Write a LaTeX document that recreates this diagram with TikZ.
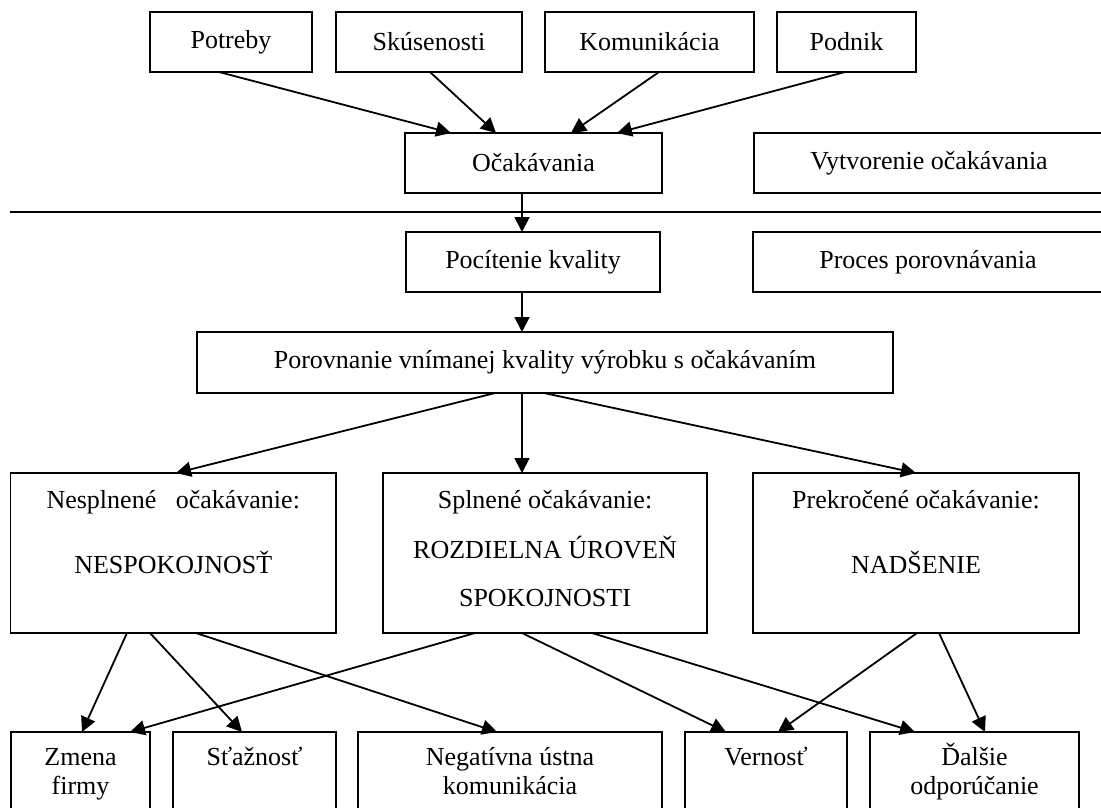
\documentclass[tikz,border=0pt]{standalone}
\usepackage{fontspec}
\setmainfont{Liberation Serif}
\usetikzlibrary{arrows.meta,calc}
\begin{document}
\begin{tikzpicture}[x=1pt,y=-1pt,
  box/.style={draw, line width=1.9pt, inner sep=0pt, outer sep=0pt, anchor=north west,
    font=\fontsize{26}{30}\selectfont, minimum height=60pt},
  lbl/.style={font=\fontsize{26}{30}\selectfont, inner sep=0pt, anchor=base},
  arr/.style={line width=1.8pt, -{Triangle[length=15pt,width=15pt]}},
  sep/.style={line width=1.9pt}
]
\clip (0,0) rectangle (1101,807);
% top row
\node[box, minimum width=162pt] (potreby) at (150,12) {Potreby};
\node[box, minimum width=186pt] (skus) at (336,12) {Skúsenosti};
\node[box, minimum width=209pt] (komun) at (545,12) {Komunikácia};
\node[box, minimum width=139pt] (podnik) at (777,12) {Podnik};
% second row
\node[box, minimum width=257pt] (ocak) at (405,133) {Očakávania};
\node[box, minimum width=350pt] (vytv) at (754,133) {Vytvorenie očakávania};
% separator
\coordinate (sepL) at (10,212);
\coordinate (sepR) at (1110,212);
\draw[sep] (sepL) -- (sepR);
% third row
\node[box, minimum width=254pt] (pocit) at (406,232) {Pocítenie kvality};
\node[box, minimum width=350pt] (proces) at (753,232) {Proces porovnávania};
% comparison
\node[box, minimum width=696pt, minimum height=61pt] (porov) at (197,332) {Porovnanie vnímanej kvality výrobku s očakávaním};
% outcome boxes
\node[box, minimum width=325.5pt, minimum height=160pt] (nesp) at (10.5,473) {};
\node[box, minimum width=324pt, minimum height=160pt] (spln) at (383,473) {};
\node[box, minimum width=326pt, minimum height=160pt] (prekr) at (753,473) {};
\node[lbl] (nesp1) at ($(nesp.north)+(0,35)$) {Nesplnené\ \ \ očakávanie:};
\node[lbl] (nesp2) at ($(nesp.north)+(0,100)$) {NESPOKOJNOSŤ};
\node[lbl] (spln1) at ($(spln.north)+(0,35)$) {Splnené očakávanie:};
\node[lbl] (spln2) at ($(spln.north)+(0,85)$) {ROZDIELNA ÚROVEŇ};
\node[lbl] (spln3) at ($(spln.north)+(0,133)$) {SPOKOJNOSTI};
\node[lbl] (prekr1) at ($(prekr.north)+(0,35)$) {Prekročené očakávanie:};
\node[lbl] (prekr2) at ($(prekr.north)+(0,100)$) {NADŠENIE};
% bottom row
\node[box, minimum width=139pt, minimum height=110pt] (zmena) at (11,732) {};
\node[box, minimum width=163pt, minimum height=110pt] (staz) at (173,732) {};
\node[box, minimum width=304pt, minimum height=110pt] (neg) at (358,732) {};
\node[box, minimum width=162pt, minimum height=110pt] (vern) at (685,732) {};
\node[box, minimum width=209pt, minimum height=110pt] (dals) at (870,732) {};
\node[lbl] (zmena1) at ($(zmena.north)+(0,33)$) {Zmena};
\node[lbl] (zmena2) at ($(zmena.north)+(0,62)$) {firmy};
\node[lbl] (staz1) at ($(staz.north)+(0,33)$) {Sťažnosť};
\node[lbl] (neg1) at ($(neg.north)+(0,33)$) {Negatívna ústna};
\node[lbl] (neg2) at ($(neg.north)+(0,62)$) {komunikácia};
\node[lbl] (vern1) at ($(vern.north)+(0,33)$) {Vernosť};
\node[lbl] (dals1) at ($(dals.north)+(0,33)$) {Ďalšie};
\node[lbl] (dals2) at ($(dals.north)+(0,62)$) {odporúčanie};
% arrows top
\draw[arr] ([xshift=69pt]potreby.south west) -- ([xshift=46pt]ocak.north west);
\draw[arr] ([xshift=94pt]skus.south west) -- ([xshift=91pt]ocak.north west);
\draw[arr] ([xshift=114pt]komun.south west) -- ([xshift=166pt]ocak.north west);
\draw[arr] ([xshift=68pt]podnik.south west) -- ([xshift=212pt]ocak.north west);
\draw[arr] ([xshift=117pt]ocak.south west) -- ([xshift=116pt]pocit.north west);
\draw[arr] ([xshift=116pt]pocit.south west) -- ([xshift=325pt]porov.north west);
% comparison to outcomes
\draw[arr] ([xshift=298pt]porov.south west) -- ([xshift=165.5pt]nesp.north west);
\draw[arr] ([xshift=325pt]porov.south west) -- ([xshift=139pt]spln.north west);
\draw[arr] ([xshift=347pt]porov.south west) -- ([xshift=163pt]prekr.north west);
% outcomes to reactions
\draw[arr] ([xshift=116.5pt]nesp.south west) -- ([xshift=71pt]zmena.north west);
\draw[arr] ([xshift=139.5pt]nesp.south west) -- ([xshift=69pt]staz.north west);
\draw[arr] ([xshift=185.5pt]nesp.south west) -- ([xshift=139pt]neg.north west);
\draw[arr] ([xshift=92pt]spln.south west) -- ([xshift=119pt]zmena.north west);
\draw[arr] ([xshift=139pt]spln.south west) -- ([xshift=41pt]vern.north west);
\draw[arr] ([xshift=209pt]spln.south west) -- ([xshift=45pt]dals.north west);
\draw[arr] ([xshift=164pt]prekr.south west) -- ([xshift=93pt]vern.north west);
\draw[arr] ([xshift=186pt]prekr.south west) -- ([xshift=115pt]dals.north west);
\end{tikzpicture}
\end{document}
